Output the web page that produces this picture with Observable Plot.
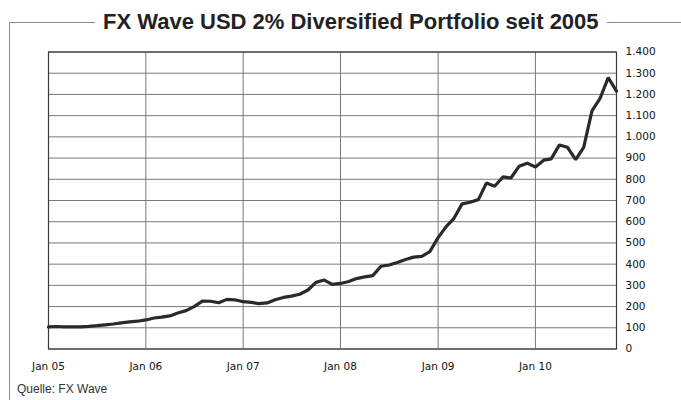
<!DOCTYPE html>
<html>
<head>
<meta charset="utf-8">
<script src="https://cdn.jsdelivr.net/npm/d3@7"></script>
<script src="https://cdn.jsdelivr.net/npm/@observablehq/plot@0.6"></script>
<style>
  html, body { margin: 0; padding: 0; background: #fff; }
  #wrap { position: relative; width: 681px; height: 400px; overflow: hidden; background: #fff; }
  #outer { position: absolute; left: 9px; top: 22px; width: 700px; height: 400px;
           border-left: 1px solid #8a8a8a; border-top: 1px solid #8a8a8a; box-sizing: border-box; }
  #title { position: absolute; left: 95px; top: 8px; padding: 0 8px; background: #fff;
           font-family: "Liberation Sans", Arial, sans-serif; font-weight: bold; font-size: 22px;
           color: #222; white-space: nowrap; line-height: 27px; }
  #caption { position: absolute; left: 17px; top: 382px;
             font-family: "Liberation Sans", Arial, sans-serif; font-size: 12px; color: #333; }
  #chart { position: absolute; left: 0; top: 0; }
</style>
</head>
<body>
<div id="wrap">
  <div id="outer"></div>
  <div id="title">FX Wave USD 2% Diversified Portfolio seit 2005</div>
  <div id="chart"></div>
  <div id="caption">Quelle: FX Wave</div>
</div>
<script>
// Monthly index values, Jan 2005 .. Nov 2010
const values = [
  104, 106, 104, 104, 104, 107, 110, 114, 118, 123, 128, 131,   // 2005
  137, 146, 150, 156, 170, 181, 200, 226, 225, 218, 234, 232,   // 2006
  223, 220, 214, 217, 232, 243, 249, 258, 278, 314, 325, 305,   // 2007
  309, 318, 332, 340, 346, 390, 396, 408, 422, 433, 437, 459,   // 2008
  525, 578, 615, 684, 692, 704, 782, 767, 811, 806, 862, 876,   // 2009
  858, 890, 896, 962, 951, 893, 950, 1122, 1183, 1279, 1216     // 2010
];
const startYear = 2005;
const tickYears = [2005, 2006, 2007, 2008, 2009, 2010];
const tickLabels = ["Jan 05", "Jan 06", "Jan 07", "Jan 08", "Jan 09", "Jan 10"];
const yTicks = [0, 100, 200, 300, 400, 500, 600, 700, 800, 900, 1000, 1100, 1200, 1300, 1400];

const data = values.map((v, i) => ({date: new Date(Date.UTC(startYear, i, 1)), value: v}));
const tickDates = tickYears.map(y => new Date(Date.UTC(y, 0, 1)));
const labelOf = new Map(tickDates.map((d, i) => [+d, tickLabels[i]]));
const de = d3.formatLocale({decimal: ",", thousands: ".", grouping: [3], currency: ["", " €"]});
const fmt = de.format(",");

const tickFont = '"DejaVu Sans", sans-serif';

const chart = Plot.plot({
  width: 681,
  height: 400,
  marginLeft: 48,
  marginRight: 65,
  marginTop: 51.5,
  marginBottom: 51.5,
  style: {fontFamily: tickFont, fontSize: "10.5px", color: "#111", background: "transparent"},
  x: {type: "utc", domain: [data[0].date, data[data.length - 1].date], label: null},
  y: {domain: [0, 1400], label: null},
  marks: [
    Plot.gridY(yTicks, {stroke: "#7a7a7a", strokeOpacity: 1, strokeWidth: 1}),
    Plot.gridX(tickDates, {stroke: "#7a7a7a", strokeOpacity: 1, strokeWidth: 1}),
    Plot.frame({stroke: "#3a3a3a", strokeWidth: 1.2}),
    Plot.axisY(yTicks, {anchor: "right", tickSize: 0, tickPadding: 9, textAnchor: "start",
                        tickFormat: d => fmt(d), fill: "#111", label: null}),
    Plot.axisX(tickDates, {anchor: "bottom", tickSize: 0, tickPadding: 14,
                           tickFormat: d => labelOf.get(+d), fill: "#111", label: null}),
    Plot.line(data, {x: "date", y: "value", stroke: "#2a2a2a", strokeWidth: 3.2,
                     strokeLinejoin: "miter", curve: "linear"})
  ]
});
document.getElementById("chart").appendChild(chart);
</script>
</body>
</html>
